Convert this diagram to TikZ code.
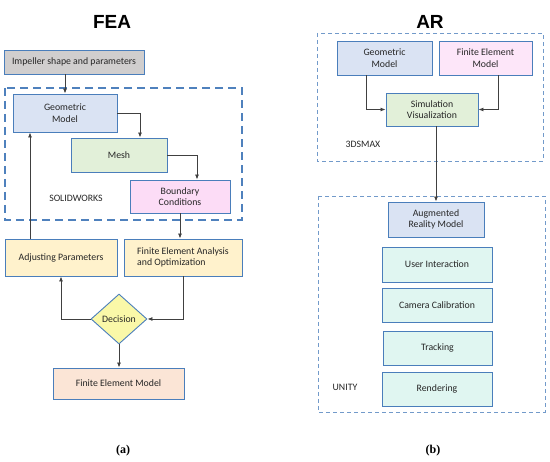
\documentclass[tikz,border=0pt]{standalone}
\usepackage{fontspec}
\setmainfont{Carlito}
\newfontfamily\headfont{Liberation Sans}
\newfontfamily\capfont{Liberation Serif}
\usetikzlibrary{arrows.meta,positioning,shapes.geometric}
\definecolor{cEdge}{HTML}{4A7EBB}
\definecolor{cFrame}{HTML}{4F81BD}
\definecolor{cLine}{HTML}{404040}
\definecolor{cGray}{HTML}{D0CECE}
\definecolor{cBlue}{HTML}{DAE3F3}
\definecolor{cGreen}{HTML}{E2F0D9}
\definecolor{cPink}{HTML}{FCDCF6}
\definecolor{cCream}{HTML}{FFF2CC}
\definecolor{cYellow}{HTML}{FAF8A8}
\definecolor{cPeach}{HTML}{FBE5D6}
\definecolor{cMint}{HTML}{E0F6F1}

\begin{document}
\begin{tikzpicture}[x=1pt,y=-1pt,font=\fontsize{9.8}{11.5}\selectfont,text=black!85,>=Latex,
   blk/.style={draw=cEdge,line width=0.9pt,align=center,inner sep=2pt},
   dec/.style={diamond,draw=cEdge,line width=0.9pt,fill=cYellow,inner sep=0pt,minimum width=56pt,minimum height=50pt},
   frm/.style={draw=cFrame,line width=1.4pt,dash pattern=on 8pt off 5pt},
   frmb/.style={draw=cFrame!80,line width=0.9pt,dash pattern=on 4pt off 3pt},
   arr/.style={->,cLine,line width=0.8pt,>={Latex[length=5pt,width=4pt]}}]
  \useasboundingbox (0,0) rectangle (550,462);
  % (a) FEA
  \node[font=\headfont\bfseries\fontsize{19}{20}\selectfont,text=black] (tfea) at (112,22) {FEA};
  \draw[frm] (5,88) rectangle (242,220);
  \node[blk,fill=cGray,minimum width=140pt,minimum height=24pt] (imp) at (74,62) {Impeller shape and parameters};
  \node[blk,fill=cBlue,minimum width=104pt,minimum height=38pt] (geo) at (65,113) {Geometric\\ Model};
  \node[blk,fill=cGreen,minimum width=96pt,minimum height=34pt] (mesh) at (119,155) {Mesh};
  \node[blk,fill=cPink,minimum width=100pt,minimum height=33pt] (bc) at (180,196.5) {Boundary\\ Conditions};
  \node (sw) at (76,198) {SOLIDWORKS};
  \node[blk,fill=cCream,minimum width=112pt,minimum height=37pt] (adj) at (61,257.5) {Adjusting Parameters};
  \node[blk,fill=cCream,minimum width=118pt,minimum height=37pt,align=left] (fea) at (183,257.5) {Finite Element Analysis\\ and Optimization};
  \node[dec] (dec) at (119,319) {Decision};
  \node[blk,fill=cPeach,minimum width=131pt,minimum height=31pt] (fem) at (118.5,383.5) {Finite Element Model};
  \node[font=\capfont\bfseries\fontsize{12}{13}\selectfont,text=black] (capa) at (123,451) {(a)};
  \draw[arr] (geo.north |- imp.south) -- (geo.north);
  \draw[arr] (geo.east) -| ([xshift=21pt]mesh.north);
  \draw[arr] (mesh.east) -| ([xshift=17pt]bc.north);
  \draw[arr] (bc.south) -- (bc.south |- fea.north);
  \draw[arr] (fea.south) |- (dec.east);
  \draw[arr] (dec.west) -| (adj.south);
  \draw[arr] ([xshift=-31pt]adj.north) -- ([xshift=-31pt]adj.north |- geo.south);
  \draw[arr] (dec.south) -- (dec.south |- fem.north);
  % (b) AR
  \node[font=\headfont\bfseries\fontsize{19}{20}\selectfont,text=black] (tar) at (430,22) {AR};
  \draw[frmb] (317,33) rectangle (543,161);
  \draw[frmb] (318,196) rectangle (545,412);
  \node[blk,fill=cBlue,minimum width=95pt,minimum height=34pt] (geo2) at (384.5,58) {Geometric\\ Model};
  \node[blk,fill=cPink!70,minimum width=93pt,minimum height=34pt] (fem2) at (485.5,58) {Finite Element\\ Model};
  \node[blk,fill=cGreen,minimum width=92pt,minimum height=33pt] (sim) at (432,109.5) {Simulation\\ Visualization};
  \node (max) at (363,144) {3DSMAX};
  \node[blk,fill=cBlue,minimum width=96pt,minimum height=35pt] (arm) at (436,219.5) {Augmented\\ Reality Model};
  \node[blk,fill=cMint,minimum width=110pt,minimum height=35pt] (ui) at (437,264.5) {User Interaction};
  \node[blk,fill=cMint,minimum width=110pt,minimum height=34pt] (cc) at (437,305) {Camera Calibration};
  \node[blk,fill=cMint,minimum width=109pt,minimum height=34pt] (tr) at (437.5,348) {Tracking};
  \node[blk,fill=cMint,minimum width=110pt,minimum height=34pt] (rd) at (437,389) {Rendering};
  \node (uni) at (345,387) {UNITY};
  \node[font=\capfont\bfseries\fontsize{12}{13}\selectfont,text=black] (capb) at (433,451) {(b)};
  \draw[arr] ([xshift=-18.5pt]geo2.south) |- (sim.west);
  \draw[arr] ([xshift=12.5pt]fem2.south) |- (sim.east);
  \draw[arr] (arm.north |- sim.south) -- (arm.north);
\end{tikzpicture}
\end{document}
